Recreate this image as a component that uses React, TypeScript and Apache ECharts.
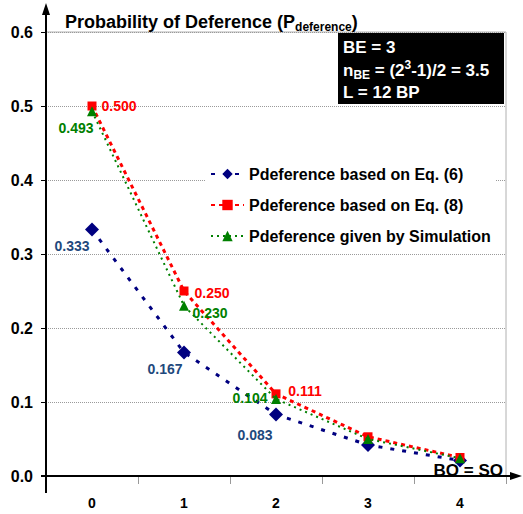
import React, { useEffect, useRef } from 'react';
import * as echarts from 'echarts';

const categories = ['0', '1', '2', '3', '4'];
const seriesNames = [
  'Pdeference based on Eq. (6)',
  'Pdeference based on Eq. (8)',
  'Pdeference given by Simulation',
];
const eq6Values = [0.333, 0.167, 0.083, 0.042, 0.021];
const eq8Values = [0.5, 0.25, 0.111, 0.053, 0.025];
const simValues = [0.493, 0.23, 0.104, 0.05, 0.024];
const labeledPoints = 3;

const FONT = 'Arial, "Liberation Sans", sans-serif';

const eq6Offsets = [[-20, 16], [-19, 17], [-21, 20]];
const eq8Offsets = [[27, 0], [28, 2], [29, -3]];
const simOffsets = [[-16, 17], [26, 7], [-26, -1]];

function buildData(values: number[], offsets: number[][]) {
  return values.map((v, i) => ({
    value: v,
    label: i < labeledPoints ? { show: true, offset: offsets[i] } : { show: false },
  }));
}

function labelStyle(color: string) {
  return {
    show: true,
    position: 'inside',
    formatter: (p: any) => Number(p.value).toFixed(3),
    color,
    fontSize: 14,
    fontWeight: 'bold',
    fontFamily: FONT,
  };
}

export default function App() {
  const ref = useRef<HTMLDivElement>(null);
  useEffect(() => {
    if (!ref.current) return;
    const chart = echarts.init(ref.current, null, { renderer: 'svg' });
    const option: any = {
      animation: false,
      backgroundColor: '#fff',
      grid: {
        left: 46,
        right: 17,
        top: 32,
        bottom: 38,
        show: true,
        borderColor: '#b0b0b0',
        borderWidth: 1,
        backgroundColor: 'transparent',
      },
      title: {
        text: '{a|Probability of Deference (P}{b|deference}{a|)}',
        left: 60,
        top: 6,
        textStyle: {
          rich: {
            a: { fontSize: 18, fontWeight: 'bold', fontFamily: FONT, color: '#000', lineHeight: 22 },
            b: { fontSize: 12, fontWeight: 'bold', fontFamily: FONT, color: '#000', lineHeight: 12, verticalAlign: 'bottom' },
          },
        },
      },
      legend: {
        orient: 'vertical',
        left: 205,
        top: 161,
        padding: [5, 5, 5, 5],
        backgroundColor: '#fff',
        itemWidth: 33,
        itemHeight: 13,
        itemGap: 15,
        textStyle: { fontSize: 16, fontWeight: 'bold', fontFamily: FONT, color: '#000' },
        data: seriesNames,
      },
      xAxis: {
        type: 'category',
        data: categories,
        boundaryGap: true,
        axisLine: { show: false },
        axisTick: { show: true, length: 8, lineStyle: { color: '#999', width: 1 } },
        axisLabel: { fontSize: 14, fontWeight: 'bold', fontFamily: FONT, color: '#000', margin: 20 },
        splitLine: { show: false },
      },
      yAxis: {
        type: 'value',
        min: 0,
        max: 0.6,
        interval: 0.1,
        axisLine: { show: false },
        axisTick: { show: true, length: 5, lineStyle: { color: '#000', width: 1 } },
        axisLabel: {
          fontSize: 16,
          fontWeight: 'bold',
          fontFamily: FONT,
          color: '#000',
          margin: 13,
          formatter: (v: number) => v.toFixed(1),
        },
        splitLine: { show: true, lineStyle: { color: '#9a9a9a', type: [1, 1], width: 1 } },
      },
      series: [
        {
          name: seriesNames[0],
          type: 'line',
          data: buildData(eq6Values, eq6Offsets),
          symbol: 'diamond',
          symbolSize: 14,
          itemStyle: { color: '#000080' },
          lineStyle: { color: '#000080', width: 3, type: [4, 8] },
          label: labelStyle('#1F497D'),
          z: 2,
        },
        {
          name: seriesNames[1],
          type: 'line',
          data: buildData(eq8Values, eq8Offsets),
          symbol: 'rect',
          symbolSize: 9,
          itemStyle: { color: '#FF0000' },
          lineStyle: { color: '#FF0000', width: 3, type: [4, 4] },
          label: labelStyle('#FF0000'),
          z: 3,
        },
        {
          name: seriesNames[2],
          type: 'line',
          data: buildData(simValues, simOffsets),
          symbol: 'triangle',
          symbolSize: 10,
          itemStyle: { color: '#008000' },
          lineStyle: { color: '#008000', width: 2, type: [2, 4] },
          label: labelStyle('#008000'),
          z: 4,
        },
      ],
      graphic: [
        { type: 'line', shape: { x1: 46, y1: 12, x2: 46, y2: 493 }, style: { stroke: '#000', lineWidth: 2 }, z: 10 },
        { type: 'polygon', shape: { points: [[46, 3], [42, 15], [50, 15]] }, style: { fill: '#000' }, z: 10 },
        { type: 'line', shape: { x1: 41, y1: 476, x2: 514, y2: 476 }, style: { stroke: '#000', lineWidth: 2 }, z: 10 },
        { type: 'polygon', shape: { points: [[522, 476], [510, 472], [510, 480]] }, style: { fill: '#000' }, z: 10 },
        { type: 'rect', shape: { x: 338, y: 33, width: 166, height: 71 }, style: { fill: '#000' }, z: 10 },
        {
          type: 'text', x: 343, y: 47, z: 11,
          style: { text: 'BE = 3', fill: '#fff', font: `bold 17px ${FONT}`, verticalAlign: 'middle' },
        },
        {
          type: 'text', x: 343, y: 70, z: 11,
          style: {
            text: '{a|n}{s|BE}{a| = (2}{p|3}{a|-1)/2 = 3.5}',
            verticalAlign: 'middle',
            rich: {
              a: { fontSize: 17, fontWeight: 'bold', fontFamily: FONT, fill: '#fff', color: '#fff', lineHeight: 22 },
              s: { fontSize: 12, fontWeight: 'bold', fontFamily: FONT, fill: '#fff', color: '#fff', lineHeight: 12, verticalAlign: 'bottom' },
              p: { fontSize: 12, fontWeight: 'bold', fontFamily: FONT, fill: '#fff', color: '#fff', lineHeight: 12, verticalAlign: 'top' },
            },
          },
        },
        {
          type: 'text', x: 343, y: 92, z: 11,
          style: { text: 'L = 12 BP', fill: '#fff', font: `bold 17px ${FONT}`, verticalAlign: 'middle' },
        },
        {
          type: 'text', x: 503, y: 470, z: 11,
          style: { text: 'BO = SO', fill: '#000', font: `bold 17px ${FONT}`, verticalAlign: 'middle', align: 'right' },
        },
      ],
    };
    chart.setOption(option);
    return () => chart.dispose();
  }, []);
  return (
    <div
      ref={ref}
      style={{ position: 'absolute', left: 0, top: 0, width: 523, height: 514 }}
    />
  );
}
